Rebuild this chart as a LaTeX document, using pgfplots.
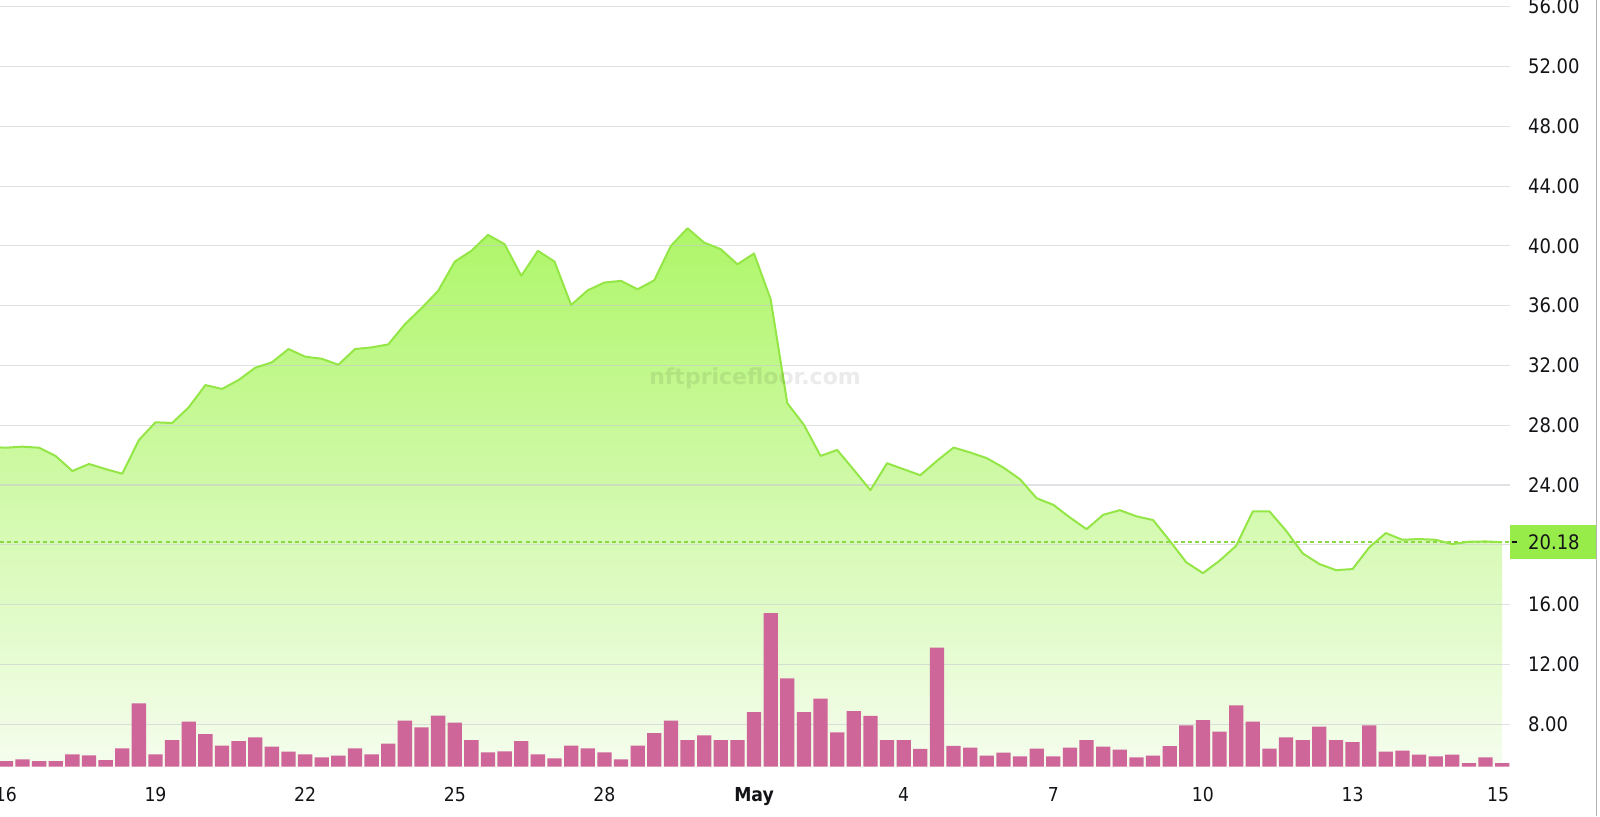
\documentclass[border=0pt]{standalone}
\usepackage{fontspec}
\setmainfont{DejaVu Sans Condensed}
\newfontfamily\wmfont{DejaVu Sans}
\usepackage{pgfplots}
\pgfplotsset{compat=1.18}
\usepackage{pgfplotstable}

\definecolor{gridc}{RGB}{200,200,208}
\definecolor{labc}{RGB}{20,20,24}
\definecolor{areatop}{RGB}{174,246,104}
\definecolor{areabot}{RGB}{245,253,238}
\definecolor{linec}{RGB}{148,230,70}
\definecolor{dashc}{RGB}{140,215,70}
\definecolor{volc}{RGB}{207,102,153}
\definecolor{boxc}{RGB}{152,236,74}

% floor price, one point every 8 hours (index 0 = Apr 16 ~08:00)
\pgfplotstableread{
k p
-2 26.55
-1 26.50
0 26.57
1 26.50
2 25.94
3 24.94
4 25.41
5 25.07
6 24.76
7 27.01
8 28.20
9 28.15
10 29.20
11 30.69
12 30.43
13 31.03
14 31.85
15 32.21
16 33.10
17 32.59
18 32.45
19 32.05
20 33.10
21 33.21
22 33.41
23 34.76
24 35.83
25 36.99
26 38.95
27 39.67
28 40.74
29 40.11
30 38.00
31 39.67
32 38.95
33 36.05
34 37.03
35 37.55
36 37.66
37 37.10
38 37.70
39 40.00
40 41.18
41 40.22
42 39.78
43 38.77
44 39.49
45 36.43
46 29.48
47 28.03
48 25.95
49 26.35
50 25.02
51 23.66
52 25.46
53 25.06
54 24.66
55 25.62
56 26.51
57 26.18
58 25.80
59 25.17
60 24.39
61 23.12
62 22.68
63 21.83
64 21.05
65 22.01
66 22.32
67 21.91
68 21.66
69 20.28
70 18.83
71 18.11
72 18.94
73 19.94
74 22.24
75 22.24
76 20.95
77 19.43
78 18.72
79 18.31
80 18.38
81 19.83
82 20.79
83 20.34
84 20.39
85 20.34
86 20.05
87 20.21
88 20.23
89 20.18
}\price

% volume (relative units)
\pgfplotstableread{
k v
-1 5.7
0 7.3
1 5.7
2 5.7
3 12.3
4 11.3
5 6.7
6 18.3
7 63.3
8 12.3
9 26.7
10 45
11 32.7
12 21
13 25.7
14 29.3
15 20
16 15
17 12.3
18 9.3
19 11
20 18.3
21 12.3
22 23
23 46
24 39.3
25 51
26 44
27 26.7
28 14.3
29 15.3
30 25.7
31 12.3
32 8.3
33 21
34 18.3
35 14.3
36 7.3
37 21
38 33.7
39 46
40 26.7
41 31.3
42 26.5
43 26.5
44 54.5
45 153.7
46 88.3
47 54.5
48 68.2
49 34.3
50 55.7
51 50.8
52 26.5
53 26.5
54 17.8
55 119
56 20.8
57 19
58 11.2
59 14.2
60 10.3
61 18
62 10.3
63 19
64 26.7
65 20
66 17
67 9.3
68 11
69 20.7
70 41.3
71 46.7
72 35
73 61.3
74 45
75 18
76 29.3
77 26.7
78 40
79 26.7
80 24.7
81 41.3
82 15
83 16
84 12
85 10.3
86 12
87 3.7
88 9.3
89 3.7
}\volume

\pgfplotsset{
  pane/.style={scale only axis, width=755pt, height=383.35pt,
    at={(0pt,24.65pt)}, anchor=south west,
    xmin=-1.353, xmax=89.47},
}

\begin{document}
\begin{tikzpicture}
% area + grid + tick labels
\begin{axis}[pane, ymin=5.16, ymax=56.45,
  axis on top,
  axis line style={draw=none},
  major tick length=0pt,
  ymajorgrids,
  grid style={gridc, line width=0.6pt, opacity=0.55},
  ytick={8,12,...,56},
  yticklabel pos=right,
  /pgf/number format/assume math mode=true,
  yticklabel style={anchor=west, xshift=5.5pt, text=labc,
    font=\fontsize{10}{12}\selectfont,
    /pgf/number format/fixed, /pgf/number format/fixed zerofill,
    /pgf/number format/precision=2},
  xtick={-1,8,17,26,35,44,53,62,71,80,88.75},
  xticklabels={16,19,22,25,28,\textbf{May},4,7,10,13,15},
  xticklabel style={text=labc, font=\fontsize{9.6}{11}\selectfont, yshift=-6.8pt},
]
\addplot[draw=none, top color=areatop, bottom color=areabot] table[x=k,y=p]{\price} \closedcycle;
\end{axis}

% volume bars
\begin{axis}[pane, hide axis, ymin=0, ymax=766.7]
\addplot[ybar, bar width=0.86, fill=volc, draw=none] table[x=k,y=v]{\volume};
\end{axis}

% price line
\begin{axis}[pane, hide axis, ymin=5.16, ymax=56.45]
\addplot[dashc, line width=0.7pt, dash pattern=on 2pt off 1.6pt] coordinates {(-1.353,20.18) (89.47,20.18)};
\addplot[linec, line width=1pt, line join=round] table[x=k,y=p]{\price};
\coordinate (pl) at (axis cs:89.47,20.18);
\coordinate (wm) at (axis cs:44.06,31.16);
\end{axis}

\node[font=\wmfont\bfseries\fontsize{11}{13}\selectfont, text=black, text opacity=0.08] at (wm) {nftpricefloor.com};
\node[anchor=west, fill=boxc, minimum width=43.5pt, minimum height=17pt, inner sep=0pt,
  font=\fontsize{10}{12}\selectfont, text=labc] at (pl) {20.18};
\draw[labc, line width=0.8pt] (pl) ++(0.8pt,0) -- ++(2.8pt,0);
\draw[gray!60, line width=0.5pt] (798.4pt,0) -- (798.4pt,408pt);
\pgfresetboundingbox
\path (0,0) rectangle (800pt,408pt);
\end{tikzpicture}
\end{document}
